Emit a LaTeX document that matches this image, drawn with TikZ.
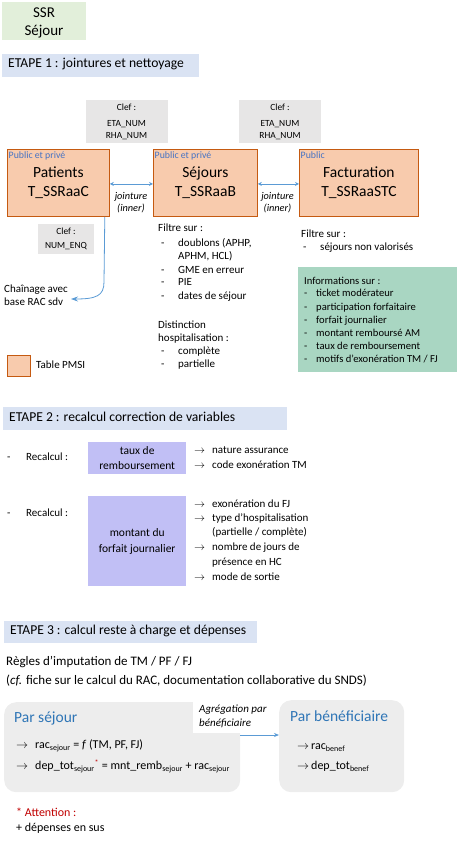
\documentclass[tikz,border=0pt]{standalone}
\usepackage{fontspec}
\setmainfont{Carlito}
\usetikzlibrary{arrows.meta}
\definecolor{ssrgreen}{HTML}{E2EFDA}
\definecolor{banner}{HTML}{DAE3F3}
\definecolor{clefgray}{HTML}{E7E6E6}
\definecolor{tblfill}{HTML}{F8CBAD}
\definecolor{tbldraw}{HTML}{C55A11}
\definecolor{lblblue}{HTML}{4472C4}
\definecolor{arrblue}{HTML}{5B9BD5}
\definecolor{infogreen}{RGB}{169,214,194}
\definecolor{purp}{RGB}{193,191,245}
\definecolor{boxgray}{HTML}{EDEDED}
\definecolor{titleblue}{HTML}{2E75B6}
\definecolor{attred}{HTML}{C00000}
\newcommand{\rarr}{$\rightarrow$}
\begin{document}
\begin{tikzpicture}[x=1pt,y=-1pt,
  t/.style={anchor=west,inner sep=0pt,text height=0.68em,text depth=0.18em,font=\fontsize{11}{12}\selectfont},
  tsm/.style={t,font=\fontsize{10.6}{12}\selectfont},
  tbig/.style={t,font=\fontsize{12}{13}\selectfont},
  bannerbox/.style={fill=banner,anchor=north west,inner sep=0pt},
  bantxt/.style={t,font=\fontsize{13.6}{15}\selectfont},
  clefbox/.style={fill=clefgray,anchor=north west,inner sep=0pt},
  cleftxt/.style={inner sep=0pt,align=center,font=\fontsize{9.4}{11.5}\selectfont},
  tbl/.style={draw=tbldraw,fill=tblfill,line width=0.8pt,anchor=north west,inner sep=0pt,align=center,font=\fontsize{15.5}{18.5}\selectfont},
  pubtag/.style={anchor=north west,inner xsep=1.5pt,inner ysep=2pt,text=lblblue,font=\fontsize{9.8}{10}\selectfont},
  joinlbl/.style={inner sep=0pt,align=center,font=\fontsize{10.3}{12.5}\selectfont\itshape},
  dbl/.style={{Stealth[length=4pt,width=4pt]}-{Stealth[length=4pt,width=4pt]},draw=arrblue,line width=0.8pt},
  conn/.style={-{Stealth[length=7pt,width=5pt]},draw=arrblue,line width=0.8pt},
  purpbox/.style={fill=purp,anchor=north west,inner sep=0pt,align=center,font=\fontsize{11.5}{15}\selectfont},
  rbox/.style={fill=boxgray,rounded corners=12pt,anchor=north west,inner sep=0pt},
  ptitle/.style={t,text=titleblue,font=\fontsize{15.5}{17}\selectfont}
]
\useasboundingbox (0,0) rectangle (457,845);

% Header
\node[fill=ssrgreen,anchor=north west,minimum width=84pt,minimum height=38pt,inner sep=0pt] (ssr) at (2,2) {};
\node[inner sep=0pt,align=center,font=\fontsize{15}{18}\selectfont] (ssrt) at (44,23) {SSR\\Séjour};

% ETAPE 1
\node[bannerbox,minimum width=197pt,minimum height=23pt] (e1) at (2,54) {};
\node[bantxt] (e1t) at (8,65.5) {ETAPE 1 : jointures et nettoyage};

\node[clefbox,minimum width=82pt,minimum height=43pt] (clef1) at (86,100) {};
\node[cleftxt] (clef1a) at (126.5,107) {Clef :};
\node[cleftxt] (clef1b) at (126.5,130) {ETA\_NUM\\RHA\_NUM};
\node[clefbox,minimum width=82pt,minimum height=43pt] (clef2) at (239,100) {};
\node[cleftxt] (clef2a) at (280,107) {Clef :};
\node[cleftxt] (clef2b) at (280,130) {ETA\_NUM\\RHA\_NUM};

\node[tbl,minimum width=102pt,minimum height=67pt] (pat) at (7,149) {Patients\\T\_SSRaaC};
\node[tbl,minimum width=104pt,minimum height=67pt] (sej) at (153,149) {Séjours\\T\_SSRaaB};
\node[tbl,minimum width=119pt,minimum height=67pt] (fac) at (299,149) {Facturation\\T\_SSRaaSTC};
\node[pubtag] (patl) at (pat.north west) {Public et privé};
\node[pubtag] (sejl) at (sej.north west) {Public et privé};
\node[pubtag] (facl) at (fac.north west) {Public};

\draw[dbl] ([yshift=-1pt]pat.east) -- ([yshift=-1pt]sej.west);
\draw[dbl] ([yshift=-1pt]sej.east) -- ([yshift=-1pt]fac.west);
\node[joinlbl] (j1) at (131,202.5) {jointure\\(inner)};
\node[joinlbl] (j2) at (277.5,202.5) {jointure\\(inner)};

\node[clefbox,minimum width=56pt,minimum height=30pt] (clef3) at (38,223.5) {};
\node[cleftxt] (clef3a) at (66,231) {Clef :};
\node[cleftxt] (clef3b) at (66,246) {NUM\_ENQ};

\node[t] (chain1) at (4,290) {Chaînage avec};
\node[t] (chain2) at (4,303) {base RAC sdv};
\coordinate (chainEnd) at (71,299);
\draw[conn] ([xshift=-5pt]pat.south east) -- (104,282) .. controls (104,296) and (96,299) .. (chainEnd);

% Legend
\node[draw=tbldraw,fill=tblfill,line width=0.8pt,anchor=north west,minimum width=23pt,minimum height=21pt,inner sep=0pt] (legbox) at (7,355) {};
\node[t] (leg) at (36,366) {Table PMSI};

% Filtre Séjours
\node[t] (f0) at (158,229) {Filtre sur :};
\foreach \y/\d/\s [count=\i] in {244/-/{doublons (APHP,}, 257//{APHM, HCL)}, 271/-/{GME en erreur}, 283/-/{PIE}, 296.5/-/{dates de séjour}}{
  \node[t] (fd\i) at (161,\y) {\d};
  \node[t] (fs\i) at (178,\y) {\s};
}
\node[t] (dist) at (158,326) {Distinction};
\node[t] (hosp) at (158,339) {hospitalisation :};
\node[t] (hd1) at (161,352) {-};
\node[t] (hs1) at (178,352) {complète};
\node[t] (hd2) at (161,365) {-};
\node[t] (hs2) at (178,365) {partielle};

% Filtre Facturation
\node[t] (ff0) at (301,235) {Filtre sur :};
\node[t] (ffd) at (303,248) {-};
\node[t] (ffs) at (320,248) {séjours non valorisés};

% Info box
\node[fill=infogreen,anchor=north west,minimum width=159pt,minimum height=105pt,inner sep=0pt] (info) at (298,267) {};
\node[tsm] (i0) at (304,281.5) {Informations sur :};
\foreach \y/\s [count=\i] in {294/{ticket modérateur}, 307.5/{participation forfaitaire}, 320.5/{forfait journalier}, 333.5/{montant remboursé AM}, 347/{taux de remboursement}, 360/{motifs d’exonération TM / FJ}}{
  \node[tsm] (id\i) at (304,\y) {-};
  \node[tsm] (is\i) at (316,\y) {\s};
}

% ETAPE 2
\node[bannerbox,minimum width=284pt,minimum height=23pt] (e2) at (3,407) {};
\node[bantxt] (e2t) at (9,418.5) {ETAPE 2 : recalcul correction de variables};

\node[t] (r1d) at (7,458) {-};
\node[t] (r1) at (26,458) {Recalcul :};
\node[purpbox,minimum width=98pt,minimum height=32pt] (taux) at (88,442) {taux de\\remboursement};
\node[t] (ta1) at (194,451) {\rarr};
\node[t] (tt1) at (212,451) {nature assurance};
\node[t] (ta2) at (194,465.5) {\rarr};
\node[t] (tt2) at (212,465.5) {code exonération TM};

\node[t] (r2d) at (7,513.5) {-};
\node[t] (r2) at (26,513.5) {Recalcul :};
\node[purpbox,minimum width=98pt,minimum height=90pt,font=\fontsize{11.5}{16}\selectfont] (fj) at (88,496) {montant du\\forfait journalier};
\node[t] (fa1) at (194,504.5) {\rarr};
\node[t] (ft1) at (212,504.5) {exonération du FJ};
\node[t] (fa2) at (194,519) {\rarr};
\node[t] (ft2) at (212,519) {type d’hospitalisation};
\node[t] (ft2b) at (212,533) {(partielle / complète)};
\node[t] (fa3) at (194,548) {\rarr};
\node[t] (ft3) at (212,548) {nombre de jours de};
\node[t] (ft3b) at (212,562.5) {présence en HC};
\node[t] (fa4) at (194,577.5) {\rarr};
\node[t] (ft4) at (212,577.5) {mode de sortie};

% ETAPE 3
\node[bannerbox,minimum width=253pt,minimum height=22pt] (e3) at (4,621) {};
\node[bantxt] (e3t) at (10,632) {ETAPE 3 : calcul reste à charge et dépenses};
\node[t,font=\fontsize{13}{14}\selectfont] (reg1) at (6,663) {Règles d’imputation de TM / PF / FJ};
\node[t,font=\fontsize{13}{14}\selectfont] (reg2) at (6,681.5) {(\textit{cf.} fiche sur le calcul du RAC, documentation collaborative du SNDS)};

\node[rbox,minimum width=236pt,minimum height=90pt] (psej) at (4,702) {};
\node[rbox,minimum width=125pt,minimum height=92pt] (pben) at (279,700) {};
\node[fill=white,anchor=north west,minimum width=79pt,minimum height=31pt,inner sep=0pt] (aggbg) at (193,702) {};
\node[t,font=\fontsize{11}{12}\selectfont\itshape] (agg1) at (199,710) {Agrégation par};
\node[t,font=\fontsize{11}{12}\selectfont\itshape] (agg2) at (199,723.5) {bénéficiaire};
\draw[-{Stealth[length=5pt,width=4pt]},draw=arrblue,line width=0.8pt] (psej.east |- 0,735) -- (pben.west |- 0,735);

\node[ptitle] (psejt) at (14,720) {Par séjour};
\node[tbig] (ps1a) at (16,746) {\rarr};
\node[tbig] (ps1) at (35,746) {rac\textsubscript{sejour} = \textit{f} (TM, PF, FJ)};
\node[tbig] (ps2a) at (16,767) {\rarr};
\node[tbig] (ps2) at (35,767) {dep\_tot\textsubscript{sejour}\textcolor{attred}{\textsuperscript{*}} = mnt\_remb\textsubscript{sejour} + rac\textsubscript{sejour}};

\node[ptitle] (pbent) at (290,719) {Par bénéficiaire};
\node[tbig] (pb1a) at (297,747) {\rarr};
\node[tbig] (pb1) at (311,747) {rac\textsubscript{benef}};
\node[tbig] (pb2a) at (297,767) {\rarr};
\node[tbig] (pb2) at (311,767) {dep\_tot\textsubscript{benef}};

\node[tbig,text=attred] (attn) at (16,814) {* Attention :};
\node[tbig] (sus) at (16,828.5) {+ dépenses en sus};
\end{tikzpicture}
\end{document}
